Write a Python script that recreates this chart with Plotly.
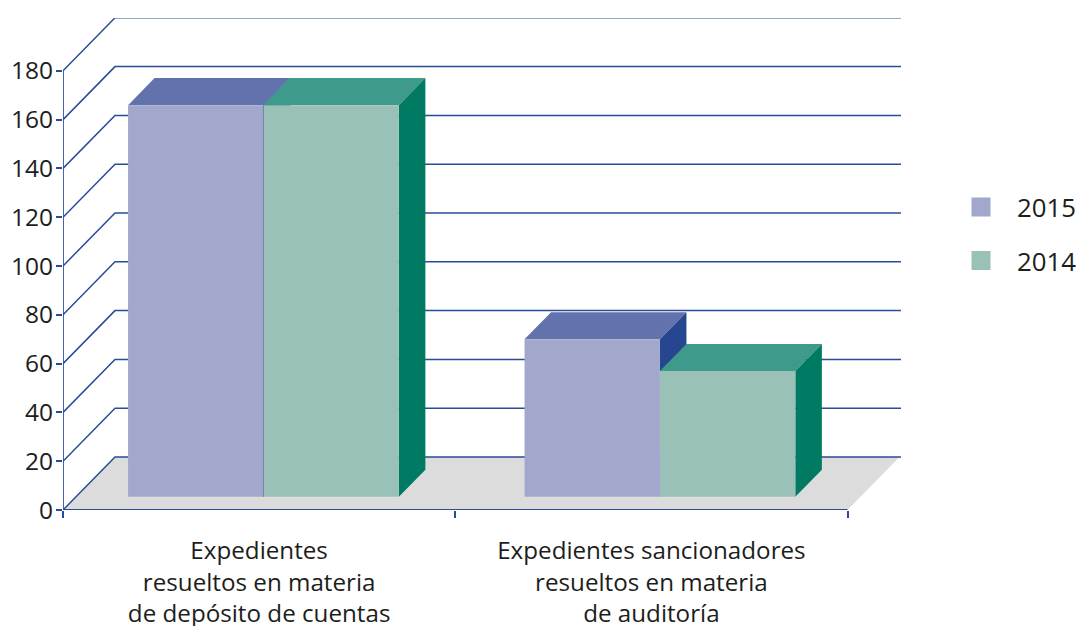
import plotly.graph_objects as go

# Data
categories = ["Expedientes<br>resueltos en materia<br>de depósito de cuentas",
              "Expedientes sancionadores<br>resueltos en materia<br>de auditoría"]
series_names = ["2015", "2014"]
values_2015 = [160.5, 64.5]
values_2014 = [160.5, 51.5]
y_ticks = [0, 20, 40, 60, 80, 100, 120, 140, 160, 180]

# Geometry
W, H = 1078, 626
L, R, T, B = 63, 901, 18.3, 510.3
PX_X = 392.25        # px per category
PX_Y = 2.44          # px per value unit
xmax = (R - L) / PX_X
ymax = (B - T) / PX_Y
wall_dx = 52 / PX_X
wall_dy = 53 / PX_Y
front = 0.25
depth = 0.51
bar_left = [0.1327, 0.1435]
bar_w = 135.4 / PX_X

LINE = "#2b4b98"
styles = {
    "2015": dict(front="#a2a8cc", top="#6272ad", side="#26478f"),
    "2014": dict(front="#9ac1b7", top="#3e9a8b", side="#007a62"),
}
FONT = "Open Sans"
TXT = "#1d1d1b"

fig = go.Figure()

def poly(xs, ys, color, line_w=0, line_c=None):
    fig.add_trace(go.Scatter(x=xs + xs[:1], y=ys + ys[:1], mode="lines", fill="toself",
                             fillcolor=color, line=dict(width=line_w, color=line_c or color),
                             showlegend=False, hoverinfo="skip", cliponaxis=False))

def line(xs, ys, w=1.5):
    fig.add_trace(go.Scatter(x=xs, y=ys, mode="lines", line=dict(color=LINE, width=w),
                             showlegend=False, hoverinfo="skip", cliponaxis=False))

n = len(categories)
# floor
poly([0, n, n + wall_dx, wall_dx], [0, 0, wall_dy, wall_dy], "#dcdcdc")
# gridlines: side wall then back wall
for v in y_ticks:
    line([0, wall_dx, xmax], [v, v + wall_dy, v + wall_dy])
# axes
line([0, 0], [0, y_ticks[-1]], 1.7)
line([0, n], [0, 0], 2)

# bars
ox, oy = wall_dx * front, wall_dy * front
dx, dy = wall_dx * depth, wall_dy * depth
for c in range(n):
    x0 = c + bar_left[c] + ox
    for s, (name, vals) in enumerate(zip(series_names, (values_2015, values_2014))):
        st = styles[name]
        a, b = x0 + s * bar_w, x0 + (s + 1) * bar_w
        base, top = oy, vals[c] + oy
        poly([a, b, b + dx, a + dx], [top, top, top + dy, top + dy], st["top"])
        poly([b, b + dx, b + dx, b], [base, base + dy, top + dy, top], st["side"])
        poly([a, b, b, a], [base, base, top, top], st["front"])
    if values_2015[c] == values_2014[c]:
        m = x0 + bar_w
        fig.add_trace(go.Scatter(x=[m, m], y=[oy, values_2015[c] + oy], mode="lines",
                                 line=dict(color="#7282b4", width=1),
                                 showlegend=False, hoverinfo="skip", cliponaxis=False))

# legend entries
for i, name in enumerate(series_names):
    c = styles[name]["front"]
    fig.add_trace(go.Scatter(x=[None], y=[None], mode="markers", name=name,
                             legendgroup=name,
                             marker=dict(symbol="square", size=16, color=c,
                                         line=dict(width=3, color=c))))

fig.update_layout(
    width=W, height=H,
    margin=dict(l=L, r=W - R, t=T, b=H - B, autoexpand=False),
    paper_bgcolor="white", plot_bgcolor="white",
    font=dict(family=FONT, size=24.5, color=TXT),
    xaxis=dict(range=[0, xmax], showgrid=False, zeroline=False, showline=False,
               tickmode="array", tickvals=[0.5, 1.5], ticktext=categories, ticks="",
               ticklabelstandoff=24, tickfont=dict(size=24.2),
               minor=dict(tickmode="array", tickvals=[0, 1, 2], ticks="outside", ticklen=7,
                          tickcolor=LINE, tickwidth=1.5, showgrid=False)),
    yaxis=dict(range=[0, ymax], showgrid=False, zeroline=False, showline=False,
               tickmode="array", tickvals=y_ticks, ticks="outside", ticklen=6,
               tickcolor=LINE, tickwidth=1.5, ticklabelstandoff=-2),
    legend=dict(x=(945 - L) / (R - L), xanchor="left",
                y=1 - (234.5 - T) / (B - T), yanchor="middle",
                traceorder="grouped", tracegroupgap=17, font=dict(size=25.8),
                bgcolor="rgba(0,0,0,0)", itemsizing="trace", itemwidth=62),
)
fig.write_html("out.html", config=dict(displayModeBar=False),
               post_script="document.body.style.margin='0';document.documentElement.style.overflow='hidden';")
